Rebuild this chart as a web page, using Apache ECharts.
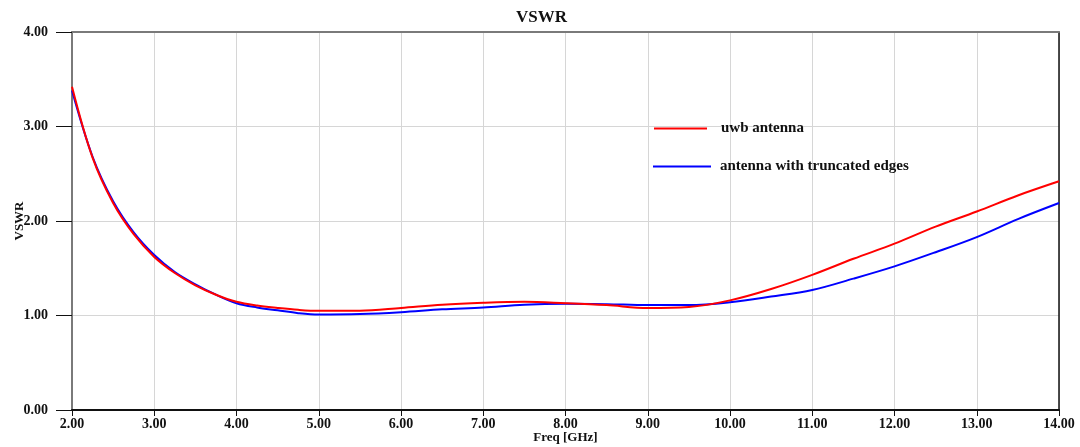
<!DOCTYPE html>
<html>
<head>
<meta charset="utf-8">
<script src="https://cdn.jsdelivr.net/npm/echarts@6/dist/echarts.min.js"></script>
<style>
  html, body { margin: 0; padding: 0; background: #ffffff; }
  #chart { width: 1080px; height: 447px; }
</style>
</head>
<body>
<div id="chart"></div>
<script>
// Frequency samples (GHz)
const freqs = [2.0, 2.25, 2.5, 2.75, 3.0, 3.25, 3.5, 3.75, 4.0, 4.25, 4.5, 4.75, 5.0, 5.5, 6.0, 6.5, 7.0, 7.5, 8.0, 8.5, 9.0, 9.5, 10.0, 10.5, 11.0, 11.5, 12.0, 12.5, 13.0, 13.5, 14.0];

// VSWR of the plain UWB antenna
const uwbVswr = [3.42, 2.67, 2.19, 1.86, 1.62, 1.45, 1.32, 1.22, 1.145, 1.105, 1.08, 1.06, 1.05, 1.05, 1.08, 1.115, 1.135, 1.145, 1.13, 1.11, 1.08, 1.09, 1.16, 1.28, 1.43, 1.60, 1.76, 1.94, 2.10, 2.27, 2.42];

// VSWR of the antenna with truncated edges
const truncVswr = [3.38, 2.68, 2.21, 1.88, 1.64, 1.46, 1.33, 1.22, 1.13, 1.085, 1.055, 1.025, 1.01, 1.015, 1.035, 1.065, 1.085, 1.115, 1.125, 1.12, 1.11, 1.11, 1.14, 1.20, 1.27, 1.39, 1.52, 1.67, 1.83, 2.02, 2.19];

const seriesNames = ['uwb antenna', 'antenna with truncated edges'];
const seriesColors = ['#ff0000', '#0000ff'];

const FONT = "'Liberation Serif', 'Times New Roman', serif";

const toPairs = (xs, ys) => xs.map((x, i) => [x, ys[i]]);

const chart = echarts.init(document.getElementById('chart'), null, { renderer: 'canvas' });

const tickStyle = { fontFamily: FONT, fontWeight: 'bold', fontSize: 14, color: '#111111' };
const nameStyle = { fontFamily: FONT, fontWeight: 'bold', fontSize: 13, color: '#111111' };
const legendText = { fontFamily: FONT, fontWeight: 'bold', fontSize: 15, color: '#111111' };

chart.setOption({
  animation: false,
  backgroundColor: '#ffffff',
  title: {
    text: 'VSWR',
    left: 511,
    top: 4,
    textStyle: { fontFamily: FONT, fontWeight: 'bold', fontSize: 17, color: '#111111' }
  },
  legend: [
    {
      data: [{ name: seriesNames[0], icon: 'rect' }],
      left: 649,
      top: 116,
      itemWidth: 53,
      itemHeight: 2,
      textStyle: Object.assign({ padding: [0, 0, 0, 9] }, legendText),
      selectedMode: false
    },
    {
      data: [{ name: seriesNames[1], icon: 'rect' }],
      left: 648,
      top: 154,
      itemWidth: 58,
      itemHeight: 2,
      textStyle: Object.assign({ padding: [0, 0, 0, 4] }, legendText),
      selectedMode: false
    }
  ],
  grid: { left: 72, right: 21, top: 32, bottom: 37, containLabel: false, outerBoundsMode: 'none' },
  xAxis: [
    {
      type: 'value',
      min: 2,
      max: 14,
      interval: 1,
      position: 'bottom',
      name: 'Freq [GHz]',
      nameLocation: 'middle',
      nameGap: 21,
      nameMoveOverlap: false,
      nameTextStyle: nameStyle,
      axisLine: { show: true, onZero: false, lineStyle: { color: '#111111', width: 2 } },
      axisTick: { show: true, length: 6, lineStyle: { color: '#111111', width: 1 } },
      axisLabel: Object.assign({ margin: 7, formatter: v => v.toFixed(2) }, tickStyle),
      splitLine: { show: true, lineStyle: { color: '#d6d6d6', width: 1 } }
    },
    {
      type: 'value',
      min: 2,
      max: 14,
      position: 'top',
      axisLine: { show: true, onZero: false, lineStyle: { color: '#7a7a7a', width: 2 } },
      axisTick: { show: false },
      axisLabel: { show: false },
      splitLine: { show: false }
    }
  ],
  yAxis: [
    {
      type: 'value',
      min: 0,
      max: 4,
      interval: 1,
      position: 'left',
      name: 'VSWR',
      nameLocation: 'middle',
      nameGap: 46,
      nameMoveOverlap: false,
      nameRotate: 90,
      nameTextStyle: nameStyle,
      axisLine: { show: true, onZero: false, lineStyle: { color: '#7a7a7a', width: 2 } },
      axisTick: { show: true, length: 16, lineStyle: { color: '#111111', width: 1 } },
      axisLabel: Object.assign({ margin: 24, formatter: v => v.toFixed(2) }, tickStyle),
      splitLine: { show: true, lineStyle: { color: '#d6d6d6', width: 1 } }
    },
    {
      type: 'value',
      min: 0,
      max: 4,
      position: 'right',
      axisLine: { show: true, onZero: false, lineStyle: { color: '#111111', width: 1.5 } },
      axisTick: { show: false },
      axisLabel: { show: false },
      splitLine: { show: false }
    }
  ],
  series: [
    {
      name: seriesNames[1],
      type: 'line',
      data: toPairs(freqs, truncVswr),
      smooth: 0.35,
      showSymbol: false,
      color: seriesColors[1],
      lineStyle: { color: seriesColors[1], width: 2 },
      z: 2
    },
    {
      name: seriesNames[0],
      type: 'line',
      data: toPairs(freqs, uwbVswr),
      smooth: 0.35,
      showSymbol: false,
      color: seriesColors[0],
      lineStyle: { color: seriesColors[0], width: 2 },
      z: 3
    }
  ]
});
</script>
</body>
</html>
